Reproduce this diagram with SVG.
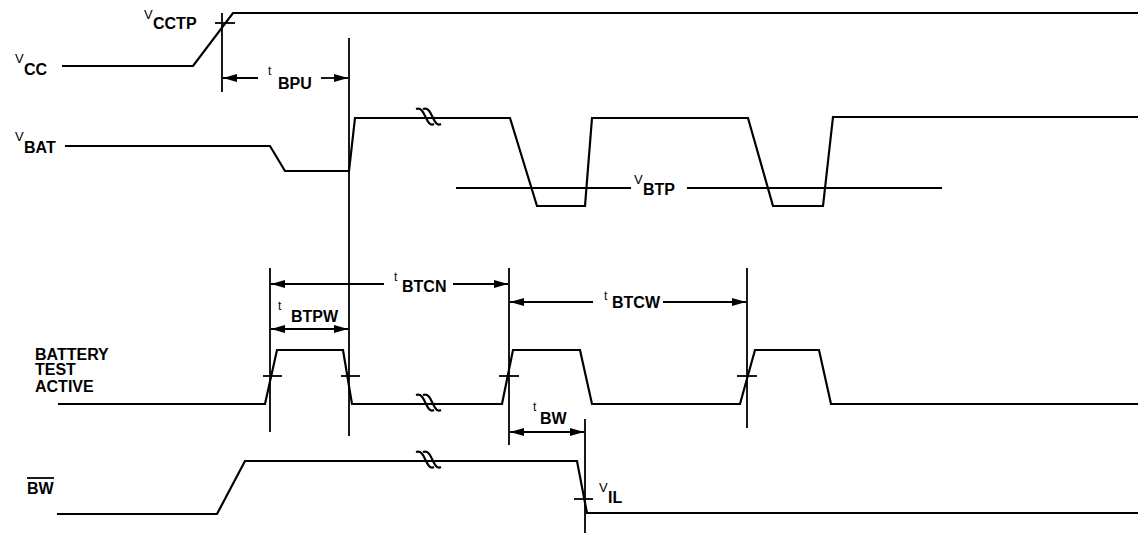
<svg xmlns="http://www.w3.org/2000/svg" width="1138" height="534" viewBox="0 0 1138 534">
<style>
.sig{fill:none;stroke:#000;stroke-width:2.2;stroke-linejoin:miter}
.ref{fill:none;stroke:#000;stroke-width:1.8}
.arr{fill:none;stroke:#000;stroke-width:1.8}
.sq{fill:none;stroke:#000;stroke-width:2.2}
text{font-family:"Liberation Sans",Arial,sans-serif;fill:#000}
.m{font-size:13px}
.t{font-size:12px}
.s{font-size:16px;font-weight:bold}
.lbl{font-size:16px;font-weight:bold}
</style>
<defs>
<marker id="ah" viewBox="0 0 14 8" refX="14" refY="4" markerWidth="14" markerHeight="8" markerUnits="userSpaceOnUse" orient="auto-start-reverse">
<path d="M0,0 L14,4 L0,8 z" fill="#000"/>
</marker>
<g id="squig">
<path d="M-12,-9 C-6,-11 -4,-4 -2,0 S2,8 6,6" class="sq"/>
<path d="M-5,-9 C1,-11 3,-4 5,0 S9,8 13,6" class="sq"/>
</g>
</defs>

<g id="vcc">
<polyline class="sig" points="62,66 193,66 233,13 1138,13"/>
<text><tspan class="m" x="15" y="63">V</tspan><tspan class="s" x="24" y="75">CC</tspan></text>
</g>
<g id="vcctp">
<text><tspan class="m" x="144" y="19">V</tspan><tspan class="s" x="153" y="29">CCTP</tspan></text>
<line class="ref" x1="215" y1="23" x2="235" y2="23"/>
</g>
<g id="vbat">
<polyline class="sig" points="65,146 270,146 285,171 349,171 355,118 510,118 537,206 585,206 592,118 748,118 773,206 823,206 833,117 1138,117"/>
<text><tspan class="m" x="15" y="141">V</tspan><tspan class="s" x="24" y="153">BAT</tspan></text>
<use href="#squig" x="428" y="118"/>
</g>
<g id="vbtp">
<line class="sig" x1="456" y1="188" x2="631" y2="188"/>
<line class="sig" x1="687" y1="188" x2="942" y2="188"/>
<text><tspan class="m" x="634" y="184">V</tspan><tspan class="s" x="643" y="195">BTP</tspan></text>
</g>
<g id="bta">
<polyline class="sig" points="58,404 265,404 277,350 343,350 352,404 502,404 513,350 580,350 592,404 740,404 755,350 819,350 831,404 1138,404"/>
<text class="lbl"><tspan x="35" y="360">BATTERY</tspan><tspan x="35" y="375">TEST</tspan><tspan x="35" y="392">ACTIVE</tspan></text>
<use href="#squig" x="428" y="404"/>
<line class="ref" x1="263" y1="376" x2="282" y2="376"/>
<line class="ref" x1="341" y1="376" x2="360" y2="376"/>
<line class="ref" x1="499" y1="376" x2="519" y2="376"/>
<line class="ref" x1="737" y1="376" x2="757" y2="376"/>
</g>
<g id="bw">
<polyline class="sig" points="57,514 217,514 245,461 577,461 587,513 1138,513"/>
<text class="lbl" x="27" y="494">BW</text>
<line class="ref" x1="27" y1="478" x2="54" y2="478" stroke-width="1.4"/>
<use href="#squig" x="428" y="461"/>
</g>
<g id="vil">
<line class="ref" x1="574" y1="499" x2="593" y2="499"/>
<text><tspan class="m" x="599" y="492">V</tspan><tspan class="s" x="608" y="503">IL</tspan></text>
</g>

<g id="connectors">
<line class="ref" x1="222" y1="13" x2="222" y2="92"/>
<line class="ref" x1="349" y1="38" x2="349" y2="436"/>
<line class="ref" x1="270" y1="268" x2="270" y2="432"/>
<line class="ref" x1="509" y1="268" x2="509" y2="445"/>
<line class="ref" x1="747" y1="268" x2="747" y2="428"/>
<line class="ref" x1="585" y1="419" x2="585" y2="533"/>
<path class="arr" d="M258,78 H223" marker-end="url(#ah)"/>
<path class="arr" d="M321,78 H348" marker-end="url(#ah)"/>
<path class="arr" d="M384,284 H271" marker-end="url(#ah)"/>
<path class="arr" d="M453,284 H508" marker-end="url(#ah)"/>
<path class="arr" d="M271,329 H348" marker-start="url(#ah)" marker-end="url(#ah)"/>
<path class="arr" d="M593,302 H510" marker-end="url(#ah)"/>
<path class="arr" d="M663,302 H746" marker-end="url(#ah)"/>
<path class="arr" d="M510,432 H584" marker-start="url(#ah)" marker-end="url(#ah)"/>
</g>
<g id="timing-labels">
<text><tspan class="t" x="268" y="75">t</tspan><tspan class="s" x="278" y="89">BPU</tspan></text>
<text><tspan class="t" x="394" y="281">t</tspan><tspan class="s" x="402" y="292">BTCN</tspan></text>
<text><tspan class="t" x="278" y="310">t</tspan><tspan class="s" x="291" y="322">BTPW</tspan></text>
<text><tspan class="t" x="604" y="300">t</tspan><tspan class="s" x="612" y="308">BTCW</tspan></text>
<text><tspan class="t" x="533" y="411">t</tspan><tspan class="s" x="540" y="424">BW</tspan></text>
</g>
</svg>
